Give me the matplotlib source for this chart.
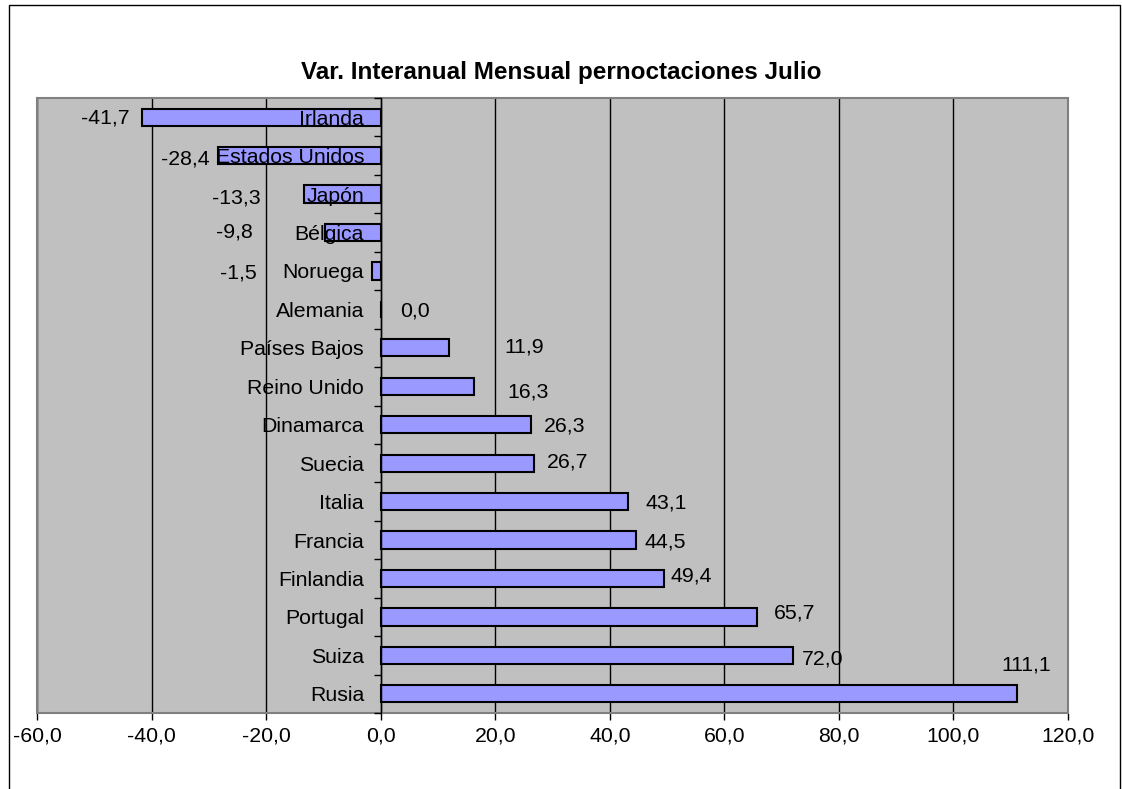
import matplotlib.pyplot as plt
from matplotlib.patches import Rectangle
from matplotlib.ticker import FuncFormatter, MultipleLocator

plt.rcParams['font.family'] = ['Liberation Sans', 'DejaVu Sans']

# datos
paises = ["Irlanda", "Estados Unidos", "Japón", "Bélgica", "Noruega", "Alemania",
          "Países Bajos", "Reino Unido", "Dinamarca", "Suecia", "Italia", "Francia",
          "Finlandia", "Portugal", "Suiza", "Rusia"]
variacion = [-41.7, -28.4, -13.3, -9.8, -1.5, 0.0, 11.9, 16.3, 26.3, 26.7,
             43.1, 44.5, 49.4, 65.7, 72.0, 111.1]

# desplazamiento de las etiquetas (pixeles) respecto al extremo de la barra
etiq_dx = [-37, -33, -68, -90, -134, 34, 75, 54, 33, 34, 39, 30, 28, 38, 30, 9]
etiq_dy = [-1, -3, -4, 1, -2, -2, 1, -6, -1, 1, -1, -2, 2, 4, -4, 29]

fig = plt.figure(figsize=(11.22, 7.89), dpi=100)
ax = fig.add_axes([37 / 1122, 1 - 713 / 789, (1068 - 37) / 1122, (713 - 98) / 789])
ax.set_facecolor("#C0C0C0")

pos = list(range(len(paises)))
ax.barh(pos, variacion, height=0.45, color="#9999FF", edgecolor="black",
        linewidth=1.5, zorder=2)

for i, v in enumerate(variacion):
    ax.annotate(f"{v:.1f}".replace(".", ","), xy=(v, i),
                xytext=(etiq_dx[i], etiq_dy[i]), textcoords="offset pixels",
                ha="center", va="center", fontsize=15.3, zorder=5)

ax.set_xlim(-60, 120)
ax.set_ylim(len(paises) - 0.5, -0.5)

# eje x
ax.xaxis.set_major_locator(MultipleLocator(20))
ax.xaxis.set_major_formatter(FuncFormatter(lambda x, p: f"{x:.1f}".replace(".", ",")))
ax.tick_params(axis="x", direction="out", length=5, width=1, pad=5, labelsize=15.3)
ax.grid(axis="x", color="black", linewidth=1)
ax.set_axisbelow(True)

# eje y en el cero (nombres por encima de las barras)
ax.spines["left"].set_position(("data", 0))
ax.spines["left"].set_color("black")
ax.spines["left"].set_linewidth(1)
ax.set_yticks(pos)
ax.set_yticklabels(paises)
ax.set_yticks([p - 0.5 for p in pos] + [len(paises) - 0.5], minor=True)
ax.tick_params(axis="y", which="major", length=0, pad=12, labelsize=15.3)
ax.tick_params(axis="y", which="minor", direction="out", length=5, width=1)
ax.yaxis.set_zorder(6)
ax.spines["left"].set_zorder(6)

ax.spines["top"].set_visible(False)
ax.spines["right"].set_visible(False)
ax.spines["bottom"].set_color("black")
ax.spines["bottom"].set_linewidth(1.2)

# borde gris del area de trazado
ax.add_patch(Rectangle((0, 0), 1, 1, transform=ax.transAxes, fill=False,
                       edgecolor="#808080", linewidth=1.5, zorder=3, clip_on=False))

fig.text(0.5, 1 - 73 / 789, "Var. Interanual Mensual pernoctaciones Julio",
         ha="center", va="center", fontsize=17.5, fontweight="bold")

# marco del grafico
fig.patches.append(Rectangle((8.5 / 1122, -0.02), (1120 - 8.5) / 1122, 1.02 - 5 / 789,
                             transform=fig.transFigure, fill=False,
                             edgecolor="black", linewidth=1))

fig.savefig("out.png", dpi=100)
